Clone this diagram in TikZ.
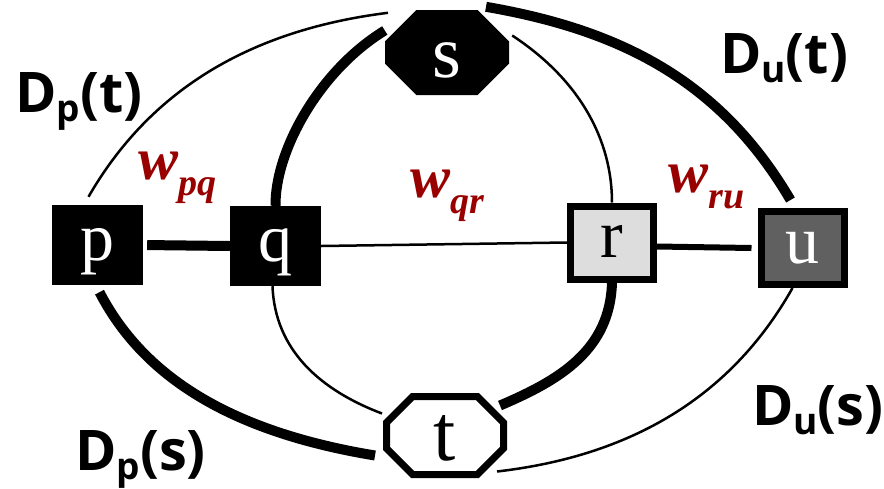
\documentclass[tikz,border=0pt]{standalone}
\usepackage{fontspec}
\setmainfont{Liberation Serif}
\newfontfamily\labelfont{Open Sans}
\usepackage{tikz}
\usetikzlibrary{shapes.misc}
\definecolor{wred}{HTML}{990000}
\definecolor{rgray}{HTML}{DDDDDD}
\definecolor{ugray}{HTML}{606060}
\newcommand{\wlab}[1]{w\raisebox{-16pt}{\fontsize{38}{38}\selectfont #1}}
\newcommand{\dlab}[2]{D\raisebox{-9pt}{\fontsize{37}{37}\selectfont #1}(#2)}

\begin{document}
\begin{tikzpicture}[
  x=1pt,y=1pt,
  sq/.style={rectangle,inner sep=0pt,minimum width=91pt,minimum height=80pt,text height=30pt,text depth=0pt,font=\fontsize{68}{68}\selectfont},
  dark/.style={sq,fill=black,text=white},
  framed/.style={sq,draw,line width=7pt,minimum width=83pt,minimum height=73pt},
  oct/.style={chamfered rectangle,chamfered rectangle sep=17pt,inner sep=0pt,text height=50pt,text depth=0pt,font=\fontsize{74}{74}\selectfont},
  lightedge/.style={line width=2.5pt},
  midedge/.style={line width=6pt},
  heavyedge/.style={line width=10pt},
  wlabel/.style={anchor=base west,inner sep=0pt,text=wred,font=\fontsize{60}{60}\selectfont\bfseries\itshape},
  dlabel/.style={anchor=base west,inner sep=0pt,font=\labelfont\bfseries\fontsize{56}{56}\selectfont}
]
\useasboundingbox (0,0) rectangle (884,-488);
\node[dark] (p) at (97.5,-245) {p};
\node[dark] (q) at (275.5,-246) {q};
\node[framed,fill=rgray] (r) at (612,-242.5) {r};
\node[framed,fill=ugray,text=white] (u) at (802.5,-248) {u};
\node[oct,fill=black,text=white,minimum width=124pt,minimum height=85pt] (s) at (447,-52.5) {s};
\node[oct,draw,line width=7pt,fill=white,minimum width=117pt,minimum height=78pt,chamfered rectangle sep=15pt,font=\fontsize{80}{80}\selectfont] (t) at (445,-435.5) {t};

\draw[heavyedge,shorten <=4pt] (p.east) -- (q.west);
\draw[lightedge] (q.east) -- (r.west);
\draw[midedge] ([yshift=-4pt]r.east) -- ([xshift=-6pt]u.west);
\draw[lightedge] ([xshift=-9pt,yshift=8pt]p.north) .. controls (150,-90) and (250,-30) .. ([xshift=-59pt,yshift=-3pt]s.north);
\draw[heavyedge] (q.north) .. controls (275,-150) and (320,-70) .. ([yshift=22pt]s.west);
\draw[heavyedge] ([xshift=39pt,yshift=3pt]s.north) .. controls (620,-30) and (720,-80) .. ([xshift=-12pt,yshift=8pt]u.north);
\draw[lightedge] ([xshift=3pt,yshift=17pt]s.east) .. controls (580,-80) and (612,-140) .. (r.north);
\draw[heavyedge] ([xshift=2pt,yshift=-7pt]p.south) .. controls (140,-370) and (220,-430) .. ([xshift=-8pt,yshift=-20pt]t.west);
\draw[lightedge] ([xshift=-3pt]q.south) .. controls (275,-350) and (320,-390) .. ([xshift=-1pt,yshift=22pt]t.west);
\draw[heavyedge] (r.south) .. controls (610,-350) and (560,-380) .. ([xshift=-7pt,yshift=30pt]t.east);
\draw[lightedge] ([xshift=-10pt]u.south) .. controls (735,-390) and (640,-455) .. ([xshift=-10pt,yshift=-36pt]t.east);

\node[wlabel] (wpq) at (138,-179) {\wlab{pq}};
\node[wlabel] (wqr) at (410,-197) {\wlab{qr}};
\node[wlabel] (wru) at (668,-192) {\wlab{ru}};
\node[dlabel] (dpt) at (15,-112) {\dlab{p}{t}};
\node[dlabel] (dut) at (720,-73) {\dlab{u}{t}};
\node[dlabel] (dps) at (75,-470) {\dlab{p}{s}};
\node[dlabel] (dus) at (752,-425) {\dlab{u}{s}};
\end{tikzpicture}
\end{document}
